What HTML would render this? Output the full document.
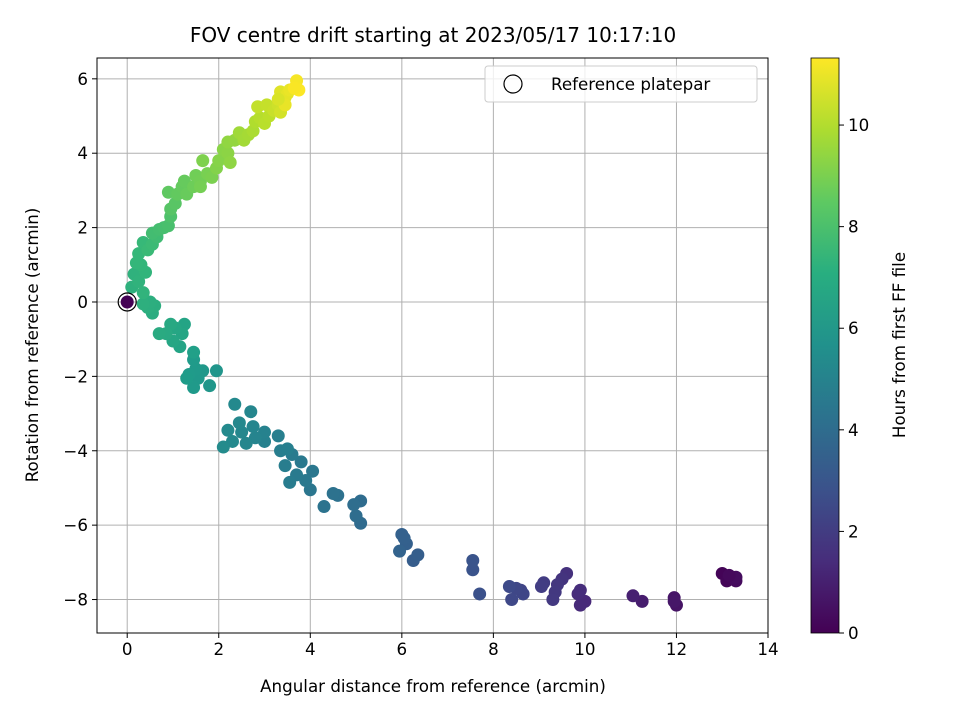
<!DOCTYPE html>
<html><head><meta charset="utf-8"><style>
body{margin:0;background:#fff}
svg text{font-family:"DejaVu Sans","Liberation Sans",sans-serif;fill:#000}
</style></head><body>
<svg id="chart" width="960" height="720" xmlns="http://www.w3.org/2000/svg">
<defs>
<linearGradient id="vir" x1="0" y1="1" x2="0" y2="0">
<stop offset="0" stop-color="#440154"/><stop offset="0.125" stop-color="#472d7b"/><stop offset="0.25" stop-color="#3b528b"/><stop offset="0.375" stop-color="#2c728e"/><stop offset="0.5" stop-color="#21918c"/><stop offset="0.625" stop-color="#28ae80"/><stop offset="0.75" stop-color="#5ec962"/><stop offset="0.875" stop-color="#addc30"/><stop offset="1" stop-color="#fde725"/>
</linearGradient>
<clipPath id="clip"><rect x="97" y="58" width="671" height="575"/></clipPath>
</defs>
<text x="433" y="42" font-size="20" text-anchor="middle">FOV centre drift starting at 2023/05/17 10:17:10</text>
<g id="grid"></g>
<g id="points" clip-path="url(#clip)"></g>
<rect x="97" y="58" width="671" height="575" fill="none" stroke="#000" stroke-width="1"/>
<g id="ticks"></g>
<text x="433" y="692" font-size="16.7" text-anchor="middle">Angular distance from reference (arcmin)</text>
<text transform="translate(38,345) rotate(-90)" font-size="16.7" text-anchor="middle">Rotation from reference (arcmin)</text>
<g>
<rect x="485" y="66" width="272" height="36" rx="3" fill="#fff" fill-opacity="0.8" stroke="#ccc"/>
<circle cx="513" cy="84" r="9" fill="none" stroke="#000" stroke-width="1.2"/>
<text x="551" y="90" font-size="16.7">Reference platepar</text>
</g>
<rect x="811" y="58" width="28" height="575" fill="url(#vir)" stroke="#000" stroke-width="0.8"/>
<g id="cbticks"></g>
<text transform="translate(905,345) rotate(-90)" font-size="16.7" text-anchor="middle">Hours from first FF file</text>
</svg>
<script>
const xTicks=[0,2,4,6,8,10,12,14];
const yTicks=[6,4,2,0,-2,-4,-6,-8];
const cTicks=[0,2,4,6,8,10];
const px=[13.0,13.1,13.2,13.3,13.3,13.15,12.0,11.95,11.95,11.25,11.05,10.0,9.9,9.85,9.9,9.6,9.5,9.4,9.35,9.3,9.1,9.05,8.6,8.65,8.5,8.4,8.35,7.7,7.55,7.55,6.25,6.35,6.1,6.0,5.95,6.05,5.1,5.1,5.0,4.95,4.6,4.5,4.3,4.0,4.05,3.9,3.8,3.7,3.6,3.55,3.45,3.35,3.3,3.5,3.0,3.0,2.8,2.75,2.7,2.6,2.5,2.45,2.35,2.3,2.2,2.1,1.95,1.8,1.65,1.55,1.5,1.45,1.35,1.3,1.45,1.45,1.25,1.2,1.15,1.05,1.0,0.95,0.85,0.7,0.55,0.6,0.45,0.5,0.35,0.1,0.15,0.25,0.35,0.4,0.3,0.2,0.25,0.35,0.45,0.55,0.65,0.55,0.7,0.8,0.9,0.95,0.95,1.05,0.9,1.1,1.2,1.25,1.3,1.45,1.5,1.6,1.6,1.75,1.85,1.65,1.95,2.0,2.1,2.2,2.25,2.2,2.35,2.45,2.55,2.65,2.75,2.8,2.9,3.0,3.1,2.85,3.05,3.2,3.3,3.35,3.45,3.35,3.5,3.45,3.55,3.3,3.7,3.75,3.65,0.0];
const py=[-7.3,-7.5,-7.4,-7.5,-7.4,-7.35,-8.15,-7.95,-8.05,-8.05,-7.9,-8.05,-8.15,-7.85,-7.75,-7.3,-7.45,-7.6,-7.8,-8.0,-7.55,-7.65,-7.75,-7.85,-7.7,-8.0,-7.65,-7.85,-7.2,-6.95,-6.95,-6.8,-6.5,-6.25,-6.7,-6.35,-5.95,-5.35,-5.75,-5.45,-5.2,-5.15,-5.5,-5.05,-4.55,-4.8,-4.3,-4.65,-4.1,-4.85,-4.4,-4.0,-3.6,-3.95,-3.75,-3.5,-3.65,-3.35,-2.95,-3.8,-3.5,-3.25,-2.75,-3.75,-3.45,-3.9,-1.85,-2.25,-1.85,-2.05,-1.8,-2.3,-1.95,-2.05,-1.55,-1.35,-0.6,-0.85,-1.2,-0.7,-1.05,-0.6,-0.85,-0.85,-0.3,-0.1,-0.15,0.0,-0.05,0.4,0.75,0.55,0.25,0.8,1.0,1.05,1.3,1.6,1.4,1.55,1.75,1.85,1.95,2.0,2.05,2.3,2.5,2.65,2.95,2.9,3.1,3.25,2.9,3.1,3.4,3.25,3.1,3.45,3.35,3.8,3.6,3.8,4.1,4.0,3.75,4.3,4.35,4.55,4.35,4.5,4.6,4.85,4.95,4.8,5.0,5.25,5.3,5.15,5.3,5.1,5.5,5.65,5.6,5.3,5.7,5.45,5.95,5.7,5.75,0.0];
const hours=[0.1,0.15,0.2,0.3,0.35,0.25,0.6,0.65,0.7,0.9,1.0,1.3,1.35,1.4,1.45,1.6,1.7,1.8,1.85,1.9,2.0,2.05,2.3,2.35,2.4,2.45,2.5,2.8,2.9,2.95,3.3,3.35,3.45,3.5,3.55,3.5,3.9,3.95,4.0,4.05,4.2,4.25,4.3,4.45,4.5,4.55,4.6,4.65,4.7,4.75,4.8,4.85,4.9,4.9,5.0,5.05,5.1,5.15,5.2,5.2,5.25,5.3,5.35,5.35,5.4,5.45,5.9,5.95,6.0,6.05,6.1,6.1,6.15,6.2,6.15,6.4,6.6,6.65,6.6,6.7,6.7,6.8,6.85,6.9,7.0,7.05,7.1,7.1,7.15,7.2,7.25,7.3,7.35,7.4,7.45,7.5,7.55,7.6,7.65,7.7,7.8,7.85,7.9,7.95,8.0,8.1,8.3,8.35,8.5,8.55,8.6,8.65,8.7,8.8,8.85,8.9,8.95,9.0,9.05,9.1,9.2,9.25,9.3,9.35,9.4,9.45,9.5,9.7,9.75,9.8,9.9,10.0,10.1,10.15,10.2,10.3,10.35,10.4,10.5,10.6,10.7,10.8,10.9,10.95,11.0,10.7,11.2,11.3,11.25,0.0];
const NS='http://www.w3.org/2000/svg';
const X0=97,X1=768,XMIN=-0.66,XMAX=14,Y0=58,Y1=633,YMIN=-8.9,YMAX=6.56,CMAX=11.32;
const sx=v=>X0+(v-XMIN)/(XMAX-XMIN)*(X1-X0);
const sy=v=>Y1-(v-YMIN)/(YMAX-YMIN)*(Y1-Y0);
const sc=v=>Y1-v/CMAX*(Y1-Y0);
const vir=[[68,1,84],[72,40,120],[62,74,137],[49,104,142],[38,130,142],[31,158,137],[53,183,121],[109,205,89],[180,222,44],[253,231,37]];
function color(h){let t=Math.max(0,Math.min(1,h/CMAX))*(vir.length-1);let i=Math.min(Math.floor(t),vir.length-2),f=t-i;const c=vir[i].map((a,k)=>Math.round(a+(vir[i+1][k]-a)*f));return `rgb(${c})`;}
function mk(tag,attrs,parent){const e=document.createElementNS(NS,tag);for(const k in attrs)e.setAttribute(k,attrs[k]);parent.appendChild(e);return e;}
const grid=document.getElementById('grid'),ticks=document.getElementById('ticks');
xTicks.forEach(t=>{const x=sx(t);
const l=mk('line',{x1:x,x2:x,y1:Y0,y2:Y1,stroke:'#b0b0b0','stroke-width':1},grid);


const tk=mk('line',{x1:x,x2:x,y1:Y1,y2:Y1+5,stroke:'#000'},ticks);


const tx=mk('text',{x:x,y:Y1+22,'font-size':16.7,'text-anchor':'middle'},ticks);tx.textContent=t;

});
yTicks.forEach(t=>{const y=sy(t);
const l=mk('line',{x1:X0,x2:X1,y1:y,y2:y,stroke:'#b0b0b0','stroke-width':1},grid);


const tk=mk('line',{x1:X0-5,x2:X0,y1:y,y2:y,stroke:'#000'},ticks);


const tx=mk('text',{x:X0-9,y:y+6,'font-size':16.7,'text-anchor':'end'},ticks);tx.textContent=(t<0?'\u2212'+(-t):t);

});
const pts=document.getElementById('points');
px.forEach((v,i)=>{const c=mk('circle',{cx:sx(v),cy:sy(py[i]),r:6.5,fill:color(hours[i])},pts);

});
const ref=mk('circle',{cx:sx(0),cy:sy(0),r:9,fill:'none',stroke:'#000','stroke-width':1.2},pts);


const cb=document.getElementById('cbticks');
cTicks.forEach(t=>{const y=sc(t);
const tk=mk('line',{x1:839,x2:844,y1:y,y2:y,stroke:'#000'},cb);


const tx=mk('text',{x:848,y:y+6,'font-size':16.7},cb);tx.textContent=t;

});
</script>
</body></html>
